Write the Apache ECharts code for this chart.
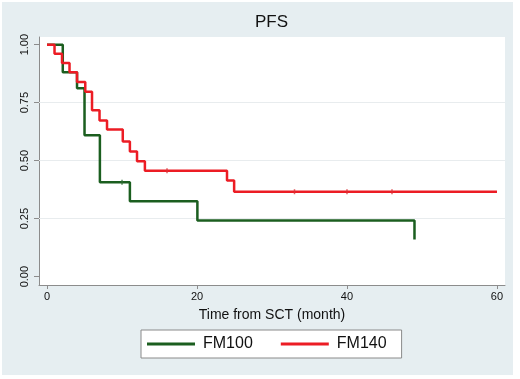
<!DOCTYPE html>
<html>
<head>
<meta charset="utf-8">
<script src="https://cdn.jsdelivr.net/npm/echarts@6/dist/echarts.min.js"></script>
<style>html,body{margin:0;padding:0;background:#fff}#c{width:520px;height:379px}</style>
</head>
<body>
<div id="c"></div>
<script>
var seriesNames = ['FM100', 'FM140'];
var fm100Time = [0, 2.1, 4.0, 5.0, 7.05, 11.05, 20.05, 49];
var fm100Surv = [1.0, 0.881, 0.812, 0.610, 0.407, 0.325, 0.242, 0.160];
var fm140Time = [0, 1.0, 2.0, 3.0, 4.0, 5.1, 6.0, 7.0, 8.0, 10.1, 11.05, 12.0, 13.05, 24.0, 24.95, 60];
var fm140Surv = [1.0, 0.961, 0.921, 0.881, 0.839, 0.797, 0.717, 0.673, 0.634, 0.583, 0.539, 0.497, 0.457, 0.414, 0.366, 0.366];
var fm100CensorTime = [10.0];
var fm100CensorSurv = [0.407];
var fm140CensorTime = [16.0, 33.0, 40.0, 46.0];
var fm140CensorSurv = [0.457, 0.366, 0.366, 0.366];
var xTicks = [0, 20, 40, 60];
var yTicks = [0, 0.25, 0.5, 0.75, 1.0];
var yGrid = [0.25, 0.5, 0.75];

function pts(t, s) { return t.map(function (v, i) { return [v, s[i]]; }); }

var chart = echarts.init(document.getElementById('c'), null, {renderer: 'canvas'});
var green = '#1b5e1f', red = '#ec1c24';
var font = '"Liberation Sans", Arial, sans-serif';
chart.setOption({
  backgroundColor: '#ffffff',
  animation: false,
  graphic: [
    {type: 'rect', shape: {x: 2, y: 2, width: 511, height: 373}, style: {fill: '#e6eef1'}, z: -10, silent: true},
    {type: 'text', left: 255, top: 14, style: {text: 'PFS', font: '17px ' + font, fill: '#111'}}
  ],
  grid: {left: 39, right: 15, top: 37, bottom: 94, backgroundColor: '#ffffff', show: true, borderWidth: 0},
  legend: {
    data: seriesNames,
    left: 141, top: 330,
    backgroundColor: '#ffffff', borderColor: '#8a8a8a', borderWidth: 1, borderRadius: 0,
    padding: [6, 15, 6, 6],
    itemWidth: 48, itemHeight: 3, itemGap: 28, icon: 'rect',
    textStyle: {fontSize: 16, color: '#111', fontFamily: font, padding: [0, 0, 0, 3]}
  },
  xAxis: {
    type: 'value', min: -1.07, max: 61.07,
    name: 'Time from SCT (month)', nameLocation: 'middle', nameGap: 23,
    nameTextStyle: {fontSize: 14, color: '#111', fontFamily: font},
    axisLine: {show: true, onZero: false, lineStyle: {color: '#8c8c8c', width: 1}},
    axisTick: {show: true, length: 4, lineStyle: {color: '#8c8c8c'}, customValues: xTicks},
    axisLabel: {customValues: xTicks, fontSize: 11, color: '#111', margin: 6, fontFamily: font},
    splitLine: {show: false}
  },
  yAxis: {
    type: 'value', min: -0.036, max: 1.033,
    axisLine: {show: true, onZero: false, lineStyle: {color: '#8c8c8c', width: 1}},
    axisTick: {show: true, length: 5, lineStyle: {color: '#8c8c8c'}, customValues: yTicks},
    axisLabel: {customValues: yTicks, rotate: 90, fontSize: 11, color: '#111', margin: 9,
      fontFamily: font,
      formatter: function (v) { return v.toFixed(2); }},
    splitLine: {show: false}
  },
  series: [
    {
      name: 'FM100', type: 'line', step: 'end', data: pts(fm100Time, fm100Surv),
      showSymbol: false, symbol: 'none', color: green, clip: false,
      lineStyle: {color: green, width: 2.5}, z: 3,
      markLine: {
        silent: true, symbol: 'none', label: {show: false}, animation: false,
        lineStyle: {color: '#e8ecee', width: 1, type: 'solid'},
        data: yGrid.map(function (v) { return {yAxis: v}; }), z: 1
      }
    },
    {
      name: 'FM140', type: 'line', step: 'end', data: pts(fm140Time, fm140Surv),
      showSymbol: false, symbol: 'none', color: red, clip: false,
      lineStyle: {color: red, width: 2.5}, z: 4
    },
    {
      name: 'c100', type: 'scatter', data: pts(fm100CensorTime, fm100CensorSurv),
      symbol: 'rect', symbolSize: [1.5, 5], itemStyle: {color: '#2f6b33'}, z: 5, silent: true
    },
    {
      name: 'c140', type: 'scatter', data: pts(fm140CensorTime, fm140CensorSurv),
      symbol: 'rect', symbolSize: [1.5, 5], itemStyle: {color: '#d9343a'}, z: 5, silent: true
    }
  ]
});
</script>
</body>
</html>
